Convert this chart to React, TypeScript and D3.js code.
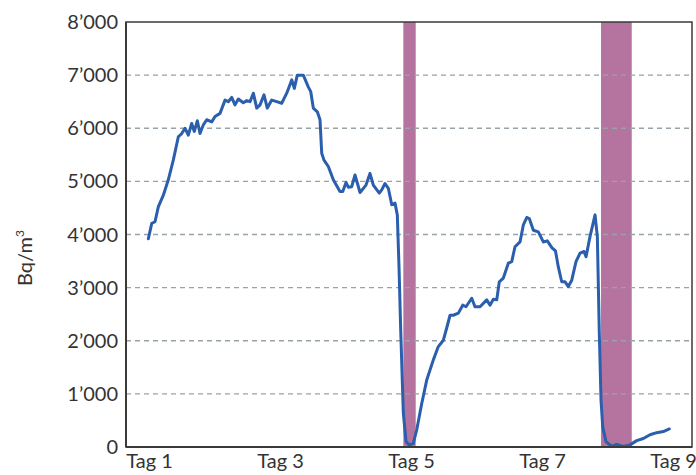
import React from "react";
import * as d3 from "d3";

// time in days, Bq/m³
const days = [
  0.982, 1.034, 1.084, 1.134, 1.211, 1.287, 1.363, 1.44, 1.492, 1.542, 1.592, 1.644, 1.684, 1.73, 1.771, 1.821, 1.873, 1.95, 2.0, 2.076,
  2.153, 2.203, 2.255, 2.305, 2.356, 2.432, 2.484, 2.534, 2.585, 2.637, 2.687, 2.748, 2.798, 2.866, 2.942, 3.018, 3.095, 3.171, 3.211, 3.256,
  3.348, 3.424, 3.461, 3.501, 3.562, 3.603, 3.629, 3.664, 3.73, 3.806, 3.908, 3.95, 4.0, 4.035, 4.087, 4.137, 4.214, 4.305, 4.366, 4.417,
  4.508, 4.545, 4.595, 4.646, 4.698, 4.748, 4.783, 4.809, 4.835, 4.875, 4.916, 4.966, 5.027, 5.079, 5.156, 5.232, 5.333, 5.409, 5.486, 5.537,
  5.588, 5.638, 5.715, 5.782, 5.832, 5.919, 5.969, 6.046, 6.148, 6.198, 6.249, 6.301, 6.34, 6.402, 6.478, 6.53, 6.58, 6.656, 6.707, 6.759,
  6.798, 6.86, 6.936, 7.012, 7.073, 7.145, 7.198, 7.241, 7.293, 7.344, 7.394, 7.446, 7.511, 7.573, 7.634, 7.664, 7.725, 7.802, 7.837, 7.867,
  7.893, 7.919, 7.969, 8.056, 8.132, 8.234, 8.336, 8.438, 8.539, 8.641, 8.743, 8.844, 8.936,
];
const radon = [
  3920, 4210, 4240, 4520, 4740, 5030, 5400, 5840, 5900, 6000, 5870, 6090, 5940, 6140, 5900, 6060, 6160, 6120, 6220, 6280,
  6530, 6500, 6580, 6440, 6550, 6480, 6520, 6500, 6660, 6380, 6440, 6630, 6380, 6530, 6500, 6470, 6660, 6910, 6750, 7000,
  7000, 6780, 6690, 6380, 6310, 6160, 5530, 5400, 5280, 5030, 4810, 4810, 4980, 4890, 4900, 5120, 4790, 4930, 5150, 4930,
  4780, 4840, 4960, 4870, 4560, 4590, 4370, 3390, 2200, 640, 100, 40, 70, 320, 820, 1260, 1640, 1890, 2010, 2240,
  2480, 2480, 2520, 2670, 2640, 2800, 2640, 2640, 2770, 2670, 2780, 2770, 3110, 3180, 3460, 3490, 3770, 3860, 4180, 4320,
  4300, 4080, 4050, 3860, 3880, 3750, 3690, 3390, 3110, 3110, 3020, 3140, 3490, 3650, 3680, 3580, 3960, 4370, 3960, 2140,
  880, 380, 100, 10, 50, 10, 40, 120, 160, 230, 270, 290, 340,
];

const shadeStart = [4.875, 7.893];
const shadeEnd = [5.064, 8.362];

const xTickDays = [1, 3, 5, 7, 9];
const xTickLabels = ["Tag 1", "Tag 3", "Tag 5", "Tag 7", "Tag 9"];
const yTicks = [0, 1000, 2000, 3000, 4000, 5000, 6000, 7000, 8000];
const yTickLabels = ["0", "1’000", "2’000", "3’000", "4’000", "5’000", "6’000", "7’000", "8’000"];
const yTitle = "Bq/m";

export default function App() {
  const W = 696, H = 475;
  const left = 126, right = 692, top = 22, bottom = 447;
  const x = d3.scaleLinear().domain([0.641, 9.282]).range([left, right]);
  const y = d3.scaleLinear().domain([0, 8000]).range([bottom, top]);
  const pts = days.map((d, i) => [d, radon[i]] as [number, number]);
  const line = d3.line<[number, number]>().x(d => x(d[0])).y(d => y(d[1])).curve(d3.curveLinear);
  const font = "Lato, 'Open Sans', sans-serif";
  return (
    <svg width={W} height={H} style={{ position: "absolute", left: 0, top: 0, background: "#fff" }}>
      {shadeStart.map((s, i) => (
        <rect key={"s" + i} x={x(s)} y={top} width={x(shadeEnd[i]) - x(s)} height={bottom - top} fill="#b5749f" />
      ))}
      {yTicks.filter(t => t > 0 && t < 8000).map(t => (
        <line key={"g" + t} x1={left} x2={right} y1={y(t)} y2={y(t)} stroke="#97a3a8" strokeWidth={1.3} strokeDasharray="5,4" />
      ))}
      <path d={line(pts) || ""} fill="none" stroke="#2b5ead" strokeWidth={3} strokeLinejoin="round" strokeLinecap="round" />
      <rect x={left} y={top} width={right - left} height={bottom - top} fill="none" stroke="#3a3a3a" strokeWidth={1.5} />
      <line x1={left} x2={left} y1={top} y2={bottom} stroke="#3a3a3a" strokeWidth={2} />
      <line x1={left} x2={right} y1={bottom} y2={bottom} stroke="#3a3a3a" strokeWidth={2} />
      {yTicks.map((t, i) => (
        <text key={"y" + t} x={118} y={y(t)} dy="0.35em" textAnchor="end" fontFamily={font} fontSize={20} fill="#333">
          {yTickLabels[i]}
        </text>
      ))}
      {xTickDays.map((d, i) => (
        <text key={"x" + d} x={x(d)} y={468} textAnchor="middle" fontFamily={font} fontSize={20} fill="#333">
          {xTickLabels[i]}
        </text>
      ))}
      <text transform="translate(32,258) rotate(-90)" textAnchor="middle" fontFamily={font} fontSize={20} fill="#333">
        {yTitle}
        <tspan fontSize={12} dy="-8">3</tspan>
      </text>
    </svg>
  );
}
